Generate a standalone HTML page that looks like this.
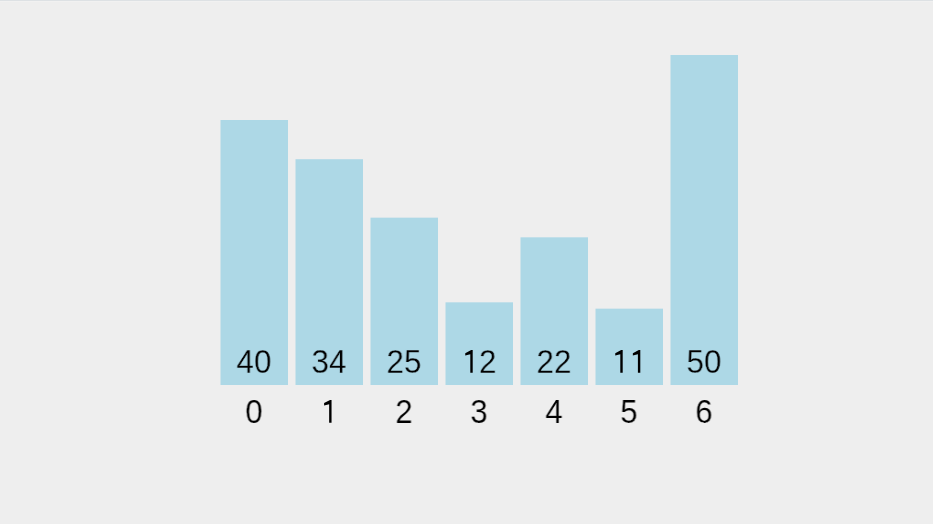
<!DOCTYPE html>
<html><head><meta charset="utf-8"><style>
html,body{margin:0;padding:0;width:933px;height:524px;overflow:hidden;background:#eeeeee;}
body{position:relative;font-family:"Liberation Sans",sans-serif;color:#000;}
.top1{position:absolute;left:0;top:0;width:933px;height:1px;background:#dde1e4;}
.top2{position:absolute;left:0;top:1px;width:933px;height:1px;background:#f1f1f1;}
svg{position:absolute;left:0;top:0;}
.val,.idx{position:absolute;width:68px;text-align:center;font-size:34px;line-height:36px;will-change:transform;transform:scaleX(0.92);}
.val{top:343px;-webkit-text-stroke:0.3px #add8e6;}
.h{color:transparent;-webkit-text-stroke-color:transparent;}
.idx{top:393px;-webkit-text-stroke:0.15px #eeeeee;}
</style></head><body>
<div class="top1"></div><div class="top2"></div>
<svg width="933" height="524" viewBox="0 0 933 524" fill="#add8e6">
<rect x="220.5" y="120" width="67.5" height="265"/>
<rect x="295.5" y="159.2" width="67.5" height="225.8"/>
<rect x="370.5" y="217.67" width="67.5" height="167.33"/>
<rect x="445.5" y="302.33" width="67.5" height="82.67"/>
<rect x="520.5" y="237.33" width="67.5" height="147.67"/>
<rect x="595.5" y="308.67" width="67.5" height="76.33"/>
<rect x="670.5" y="55" width="67.5" height="330"/>
</svg>
<div class="val" style="left:220px">40</div>
<div class="idx" style="left:220px">0</div>
<div class="val" style="left:295px">34</div>
<div class="idx" style="left:295px"><span class="h">1</span></div>
<div class="val" style="left:370px">25</div>
<div class="idx" style="left:370px">2</div>
<div class="val" style="left:445px"><span class="h">1</span>2</div>
<div class="idx" style="left:445px">3</div>
<div class="val" style="left:520px">22</div>
<div class="idx" style="left:520px">4</div>
<div class="val" style="left:595px"><span class="h">11</span></div>
<div class="idx" style="left:595px">5</div>
<div class="val" style="left:670px">50</div>
<div class="idx" style="left:670px">6</div>
<svg class="ones" width="933" height="524" viewBox="0 0 933 524" fill="#000">
<path transform="translate(328.85,399.9)" d="M2.7,0L2.7,22.8L0.3,22.8L0.3,4.3L-4.75,5.55L-4.75,3.15L1.2,0Z"/>
<path transform="translate(470.0,350.07)" d="M2.7,0L2.7,22.8L0.3,22.8L0.3,4.3L-4.75,5.55L-4.75,3.15L1.2,0Z"/>
<path transform="translate(620.0,350.07)" d="M2.7,0L2.7,22.8L0.3,22.8L0.3,4.3L-4.75,5.55L-4.75,3.15L1.2,0Z"/>
<path transform="translate(637.6,350.07)" d="M2.7,0L2.7,22.8L0.3,22.8L0.3,4.3L-4.75,5.55L-4.75,3.15L1.2,0Z"/>
</svg>
</body></html>
